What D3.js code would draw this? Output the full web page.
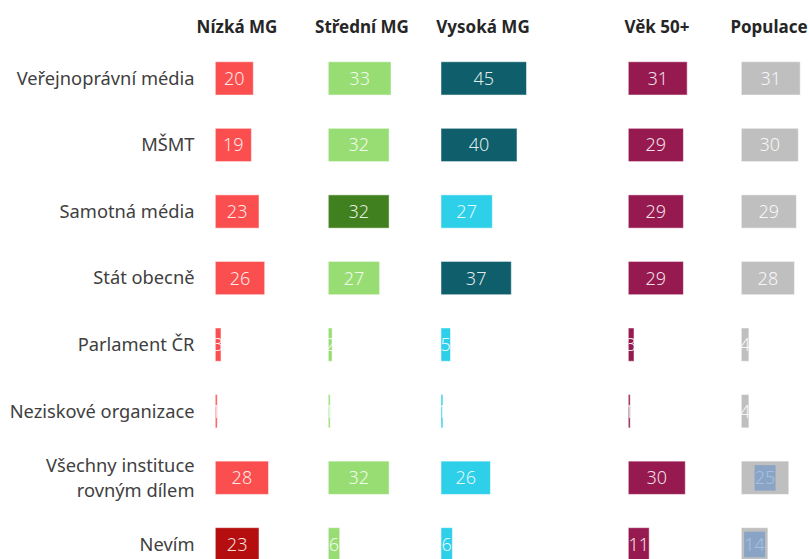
<!DOCTYPE html>
<html>
<head>
<meta charset="utf-8">
<script src="https://cdn.jsdelivr.net/npm/d3@7"></script>
<style>
  body { margin: 0; background: #fff; }
  svg { display: block; }
</style>
</head>
<body>
<div id="chart"></div>
<script>
// categories (rows) and groups (columns)
var categories = ["Veřejnoprávní média", "MŠMT", "Samotná média", "Stát obecně",
  "Parlament ČR", "Neziskové organizace", "Všechny instituce rovným dílem", "Nevím"];
var groups = ["Nízká MG", "Střední MG", "Vysoká MG", "Věk 50+", "Populace"];

// values per group, one per category
var nizka   = [20, 19, 23, 26, 3, 1, 28, 23];
var stredni = [33, 32, 32, 27, 2, 1, 32, 6];
var vysoka  = [45, 40, 27, 37, 5, 1, 26, 6];
var vek50   = [31, 29, 29, 29, 3, 1, 30, 11];
var populace = [31, 30, 29, 28, 4, 4, 25, 14];

// cell colours (significance highlighting in the original)
var nizkaColors   = ["#fb4f4f", "#fb4f4f", "#fb4f4f", "#fb4f4f", "#fb4f4f", "#fb4f4f", "#fb4f4f", "#b50e0e"];
var stredniColors = ["#97dd74", "#97dd74", "#41801f", "#97dd74", "#97dd74", "#97dd74", "#97dd74", "#97dd74"];
var vysokaColors  = ["#0e5e6b", "#0e5e6b", "#2dcfe9", "#0e5e6b", "#2dcfe9", "#2dcfe9", "#2dcfe9", "#2dcfe9"];
var vekColors     = ["#961a50", "#961a50", "#961a50", "#961a50", "#961a50", "#961a50", "#961a50", "#961a50"];
var popColors     = ["#bfbfbf", "#bfbfbf", "#bfbfbf", "#bfbfbf", "#bfbfbf", "#bfbfbf", "#bfbfbf", "#bfbfbf"];

// labels that carry the bluish selection box in the original
var popMarked = [false, false, false, false, false, false, true, true];

var series = [
  { name: groups[0], values: nizka, colors: nizkaColors, marked: null },
  { name: groups[1], values: stredni, colors: stredniColors, marked: null },
  { name: groups[2], values: vysoka, colors: vysokaColors, marked: null },
  { name: groups[3], values: vek50, colors: vekColors, marked: null },
  { name: groups[4], values: populace, colors: popColors, marked: popMarked }
];

var width = 809, height = 559;
var colStart = [215.3, 328.3, 441, 628.3, 741.3];
var headerX = [237, 362, 483, 657, 769];

var svg = d3.select("#chart").append("svg")
  .attr("width", width)
  .attr("height", height);

var y = d3.scaleBand()
  .domain(categories)
  .range([45.1, 577.6])
  .paddingInner(0.5)
  .paddingOuter(0.25);

var x = d3.scaleLinear().domain([0, 50]).range([0, 95]);

var font = "'Noto Sans', 'Open Sans', sans-serif";

// column headers
svg.selectAll("text.header")
  .data(series)
  .enter().append("text")
  .attr("class", "header")
  .attr("x", function(d, i) { return headerX[i]; })
  .attr("y", 33)
  .attr("text-anchor", "middle")
  .style("font-family", font)
  .style("font-size", "17px")
  .style("font-weight", "bold")
  .style("fill", "#262626")
  .text(function(d) { return d.name; });

// row labels
var labels = svg.selectAll("text.cat")
  .data(categories)
  .enter().append("text")
  .attr("class", "cat")
  .attr("text-anchor", "end")
  .attr("x", 194.5)
  .attr("y", function(d) { return y(d) + y.bandwidth() / 2; })
  .style("font-family", font)
  .style("font-size", "18.3px")
  .style("fill", "#404040");

labels.each(function(d) {
  var t = d3.select(this);
  if (d === "Všechny instituce rovným dílem") {
    t.append("tspan").attr("x", 194.5).attr("dy", "-0.3em").text("Všechny instituce");
    t.append("tspan").attr("x", 194.5).attr("dy", "1.35em").text("rovným dílem");
  } else {
    t.attr("dy", "0.35em").text(d);
  }
});

// bars per column
series.forEach(function(s, si) {
  var g = svg.append("g").attr("transform", "translate(" + colStart[si] + ",0)");

  var cells = g.selectAll("g.cell")
    .data(s.values.map(function(v, i) {
      return { v: v, cat: categories[i], color: s.colors[i], mark: s.marked ? s.marked[i] : false };
    }))
    .enter().append("g")
    .attr("class", "cell");

  cells.append("rect")
    .attr("x", 0)
    .attr("y", function(d) { return y(d.cat); })
    .attr("width", function(d) { return x(d.v); })
    .attr("height", y.bandwidth())
    .attr("fill", function(d) { return d.color; })
    .attr("stroke", "#ffffff")
    .attr("stroke-opacity", 0.5)
    .attr("stroke-width", 1);

  // selection box behind a couple of Populace labels
  cells.filter(function(d) { return d.mark; })
    .append("rect")
    .attr("x", function(d) { return x(d.v) / 2 - 10.5; })
    .attr("y", function(d) { return y(d.cat) + 4; })
    .attr("width", 21)
    .attr("height", 25.5)
    .attr("fill", "#8aa4c5");

  cells.append("text")
    .attr("x", function(d) { return x(d.v) / 2; })
    .attr("y", function(d) { return y(d.cat) + y.bandwidth() / 2; })
    .attr("dy", "0.36em")
    .attr("text-anchor", "middle")
    .style("font-family", font)
    .style("font-size", "18px")
    .style("font-weight", 300)
    .style("fill", function(d) { return d.mark ? "#a9c4e6" : "#ffffff"; })
    .style("fill-opacity", 0.88)
    .text(function(d) { return d.v; });
});
</script>
</body>
</html>
